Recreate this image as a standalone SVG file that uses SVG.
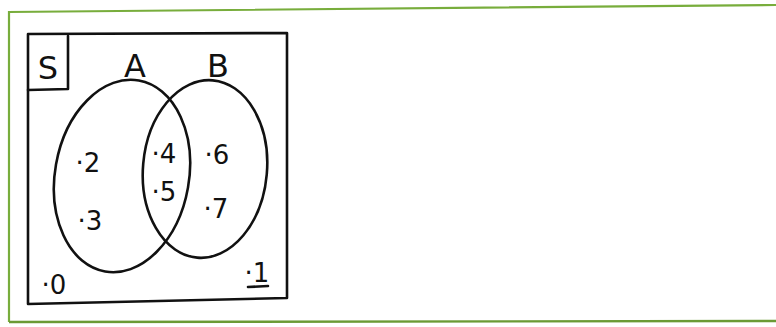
<svg xmlns="http://www.w3.org/2000/svg" width="776" height="327" viewBox="0 0 776 327">
<style>
.ink{fill:none;stroke:#111;stroke-width:2.6;stroke-linecap:round;stroke-linejoin:round}
.lbl{font-family:"DejaVu Sans","Liberation Sans",sans-serif;fill:#111}
.big{font-size:32px}
.num{font-size:26px}
</style>
<rect width="776" height="327" fill="#ffffff"/>
<g id="frame">
<path d="M9,322 L9,12 L776,5" fill="none" stroke="#78ad3c" stroke-width="2.2"/>
<path d="M9,322 L776,321" fill="none" stroke="#6b9a35" stroke-width="2.4"/>
</g>
<g id="universe">
<path class="ink" d="M28,34 L287,33 L287,298 L28,304 Z"/>
<path class="ink" d="M28,90 L68,89 L68,36"/>
<text class="lbl big" x="48" y="79" text-anchor="middle">S</text>
</g>
<g id="setA">
<ellipse class="ink" cx="122" cy="176" rx="67" ry="97" transform="rotate(10 122 176)"/>
<text class="lbl big" x="135" y="77" text-anchor="middle">A</text>
</g>
<g id="setB">
<ellipse class="ink" cx="205" cy="169" rx="62" ry="89" transform="rotate(5 205 169)"/>
<text class="lbl big" x="218" y="77" text-anchor="middle">B</text>
</g>
<g id="elements">
<text class="lbl num" x="88" y="172" text-anchor="middle">·2</text>
<text class="lbl num" x="90" y="230" text-anchor="middle">·3</text>
<text class="lbl num" x="164" y="163" text-anchor="middle">·4</text>
<text class="lbl num" x="164" y="201" text-anchor="middle">·5</text>
<text class="lbl num" x="217" y="164" text-anchor="middle">·6</text>
<text class="lbl num" x="216" y="218" text-anchor="middle">·7</text>
<text class="lbl num" x="54" y="294" text-anchor="middle">·0</text>
<text class="lbl num" x="257" y="282" text-anchor="middle">·1</text>
<path class="ink" d="M248,287 L268,286" stroke-width="2"/>
</g>
</svg>
